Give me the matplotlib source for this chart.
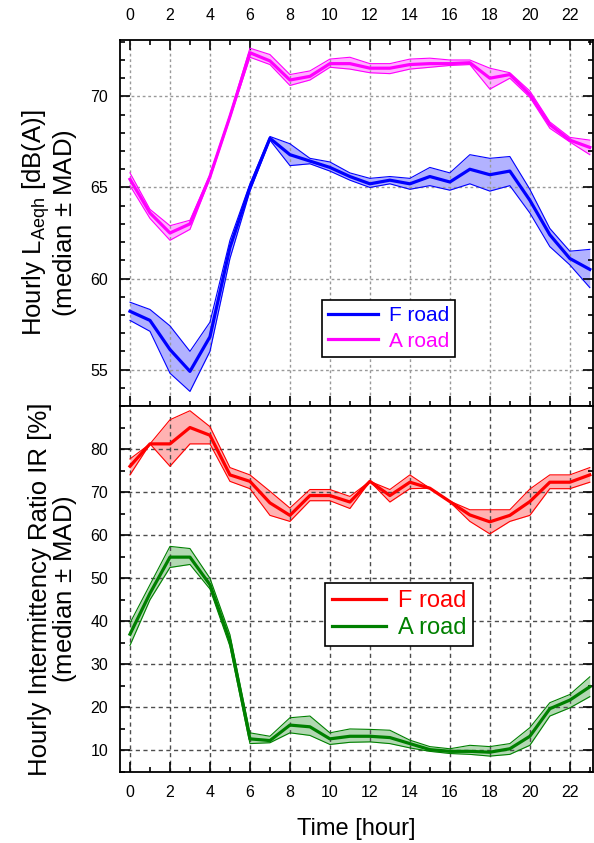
import numpy as np
from matplotlib import pyplot as plt
from matplotlib.ticker import MultipleLocator, FixedLocator

plt.rcParams['font.family'] = ['Liberation Sans', 'DejaVu Sans']
plt.rcParams['mathtext.default'] = 'regular'

hours = list(range(24))

# Hourly LAeqh [dB(A)] - median, upper, lower
f_lae = [58.2, 57.7, 56.1, 54.9, 56.8, 61.7, 65.0, 67.7, 66.8, 66.45, 66.1, 65.6,
         65.2, 65.4, 65.2, 65.6, 65.3, 66.0, 65.7, 65.9, 64.3, 62.4, 61.1, 60.5]
f_lae_hi = [58.7, 58.3, 57.4, 56.0, 57.6, 62.1, 65.2, 67.8, 67.4, 66.6, 66.4, 65.8,
            65.5, 65.6, 65.5, 66.1, 65.8, 66.8, 66.6, 66.7, 64.9, 62.75, 61.5, 61.6]
f_lae_lo = [57.7, 57.1, 54.8, 53.8, 56.0, 61.1, 64.8, 67.6, 66.2, 66.3, 65.9, 65.4,
            65.0, 65.2, 64.9, 65.1, 64.85, 65.2, 64.8, 65.1, 63.6, 61.75, 60.75, 59.5]

a_lae = [65.45, 63.6, 62.5, 63.0, 65.6, 68.9, 72.4, 71.95, 70.9, 71.1, 71.8, 71.8,
         71.55, 71.55, 71.75, 71.8, 71.8, 71.85, 71.0, 71.2, 70.1, 68.45, 67.6, 67.2]
a_lae_hi = [65.8, 63.8, 62.9, 63.2, 65.7, 69.0, 72.65, 72.3, 71.2, 71.4, 72.05, 72.15,
            71.8, 71.8, 72.05, 72.1, 72.0, 72.0, 71.55, 71.3, 70.3, 68.6, 67.75, 67.6]
a_lae_lo = [65.1, 63.3, 62.1, 62.7, 65.5, 68.8, 72.15, 71.75, 70.6, 70.9, 71.6, 71.5,
            71.3, 71.25, 71.5, 71.6, 71.7, 71.75, 70.4, 71.0, 69.95, 68.25, 67.5, 66.8]

# Hourly intermittency ratio IR [%] - median, upper, lower
f_ir = [76.0, 81.2, 81.2, 85.0, 83.2, 74.0, 72.5, 67.5, 64.6, 69.2, 69.2, 67.7,
        72.5, 69.2, 72.3, 70.9, 67.8, 64.7, 63.1, 64.6, 67.8, 72.3, 72.3, 74.0]
f_ir_hi = [77.7, 81.2, 86.8, 88.9, 85.2, 75.7, 74.0, 70.2, 66.3, 70.6, 70.6, 69.0,
           72.5, 70.6, 74.0, 70.9, 67.9, 65.9, 65.9, 65.9, 70.7, 74.0, 74.0, 75.7]
f_ir_lo = [74.0, 81.2, 76.0, 81.2, 81.2, 72.5, 70.8, 64.6, 63.2, 68.0, 68.0, 66.2,
           72.5, 67.7, 70.8, 70.9, 67.7, 63.2, 60.3, 63.2, 64.6, 70.8, 70.8, 72.3]

a_ir = [37.0, 46.5, 54.9, 54.9, 48.5, 35.4, 12.7, 12.3, 15.9, 15.5, 12.7, 13.3,
        13.3, 13.0, 11.6, 10.2, 9.8, 9.8, 9.6, 10.4, 13.3, 19.7, 21.7, 24.8]
a_ir_hi = [39.6, 48.5, 57.4, 56.9, 50.0, 36.9, 14.1, 13.3, 17.6, 18.0, 14.1, 15.0,
           14.9, 14.7, 12.4, 10.9, 10.4, 11.2, 10.9, 11.6, 15.3, 21.1, 23.0, 27.1]
a_ir_lo = [34.4, 45.0, 52.5, 53.2, 47.5, 34.2, 11.6, 11.8, 14.1, 13.5, 11.4, 11.9,
           12.0, 11.6, 10.6, 9.8, 9.3, 9.1, 8.7, 9.1, 11.2, 18.0, 19.9, 22.5]

ir_ticks = [10, 20, 30, 40, 50, 60, 70, 80]


def band(ax, med, hi, lo, color, label):
    ax.fill_between(hours, lo, hi, color=color, alpha=0.3, lw=0)
    ax.plot(hours, hi, color=color, lw=0.8)
    ax.plot(hours, lo, color=color, lw=0.8)
    return ax.plot(hours, med, color=color, lw=2.3, label=label)[0]


def style(ax, grid_color, dash):
    ax.set_xlim(-0.5, 23.15)
    ax.xaxis.set_major_locator(MultipleLocator(2))
    ax.xaxis.set_minor_locator(MultipleLocator(1))
    ax.grid(True, which='major', color=grid_color, linestyle=(0, dash), lw=1)
    ax.tick_params(which='both', direction='in', width=1.2, labelsize=11.5)
    ax.tick_params(which='major', length=7)
    ax.tick_params(which='minor', length=3.5)
    ax.tick_params(axis='y', which='major', pad=8.5)
    for s in ax.spines.values():
        s.set_linewidth(1.3)


fig = plt.figure(figsize=(5.94, 8.43), dpi=100)
ax1 = fig.add_axes([0.202, 0.5184, 0.796, 0.4342])
ax2 = fig.add_axes([0.202, 0.0842, 0.796, 0.4342])

h1 = band(ax1, f_lae, f_lae_hi, f_lae_lo, '#0000ff', 'F road')
h2 = band(ax1, a_lae, a_lae_hi, a_lae_lo, '#ff00ff', 'A road')
style(ax1, '0.6', (2, 2))
ax1.set_ylim(53, 73.1)
ax1.yaxis.set_major_locator(MultipleLocator(5))
ax1.yaxis.set_minor_locator(MultipleLocator(1))
ax1.tick_params(which='both', top=True, bottom=True, right=True,
                labeltop=True, labelbottom=False)
ax1.tick_params(axis='x', which='major', pad=12)
ax1.set_ylabel('Hourly L$_{Aeqh}$ [dB(A)]\n(median $\\pm$ MAD)', fontsize=18.5,
               linespacing=0.98, labelpad=8)
leg1 = ax1.legend(handles=[h1, h2], loc='lower left', bbox_to_anchor=(0.427, 0.134),
                  borderaxespad=0, fontsize=15, handlelength=2.4, fancybox=False,
                  edgecolor='black', framealpha=1, labelcolor='linecolor',
                  handletextpad=0.5, borderpad=0.3, labelspacing=0.3)
leg1.get_frame().set_linewidth(1.2)

h3 = band(ax2, f_ir, f_ir_hi, f_ir_lo, '#ff0000', 'F road')
h4 = band(ax2, a_ir, a_ir_hi, a_ir_lo, '#008000', 'A road')
style(ax2, '0.3', (3, 2.5))
ax2.set_ylim(5, 90)
ax2.yaxis.set_major_locator(FixedLocator(ir_ticks))
ax2.yaxis.set_minor_locator(MultipleLocator(5))
ax2.tick_params(which='both', top=False, bottom=True, right=True)
ax2.tick_params(axis='x', which='major', pad=9)
ax2.set_ylabel('Hourly Intermittency Ratio IR [%]\n(median $\\pm$ MAD)', fontsize=18.5,
               linespacing=0.98, labelpad=8)
ax2.set_xlabel('Time [hour]', fontsize=17, labelpad=13)
leg2 = ax2.legend(handles=[h3, h4], loc='lower left', bbox_to_anchor=(0.433, 0.344),
                  borderaxespad=0, fontsize=17, handlelength=2.3, fancybox=False,
                  edgecolor='black', framealpha=1, labelcolor='linecolor',
                  handletextpad=0.5, borderpad=0.3, labelspacing=0.2)
leg2.get_frame().set_linewidth(1.2)

plt.savefig('out.png', dpi=100)
